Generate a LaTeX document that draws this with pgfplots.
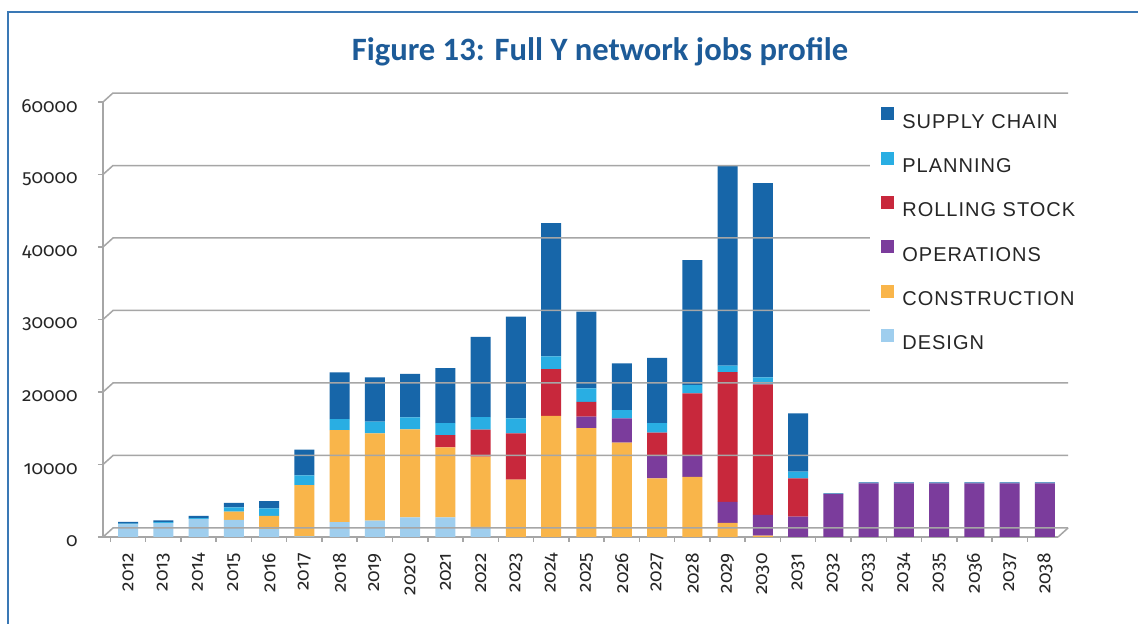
\documentclass[border=0pt]{standalone}
\usepackage{pgfplots}
\usepackage{pgfplotstable}
\pgfplotsset{compat=1.18}
\usepackage{fontspec}
\setmainfont{Carlito}
\newfontfamily\tickfont{Fira Sans}[Numbers=OldStyle]
\newfontfamily\titlefont{Carlito}
\newfontfamily\legfont{Liberation Sans}[LetterSpace=5]
\definecolor{framecol}{HTML}{3A78B5}
\definecolor{titlecol}{HTML}{1D5B98}
\definecolor{gridcol}{HTML}{A6A6A6}
\definecolor{supplycol}{HTML}{1766A9}
\definecolor{planningcol}{HTML}{29AEE3}
\definecolor{rollingcol}{HTML}{C8283C}
\definecolor{opscol}{HTML}{7B3C9C}
\definecolor{constrcol}{HTML}{F9B54A}
\definecolor{designcol}{HTML}{9FCEEE}

\pgfplotstableread{
x year design constr ops rolling planning supply
0 2012 1750 0 0 0 100 250
1 2013 1950 0 0 0 100 250
2 2014 2500 0 0 0 100 300
3 2015 2350 1150 0 0 600 600
4 2016 1100 1800 0 0 1050 1000
5 2017 100 7050 0 0 1350 3550
6 2018 2050 12700 0 0 1500 6450
7 2019 2250 12050 0 0 1600 6100
8 2020 2700 12150 0 0 1650 6000
9 2021 2700 9650 0 1700 1650 7600
10 2022 1400 9700 0 3700 1750 11050
11 2023 0 7900 0 6400 2050 14050
12 2024 0 16700 0 6450 1750 18400
13 2025 0 15000 1600 2050 1850 10600
14 2026 0 13000 3350 0 1150 6450
15 2027 0 8100 3200 3100 1300 9000
16 2028 0 8300 3000 8500 1150 17250
17 2029 0 1950 2900 17900 900 27650
18 2030 0 200 2850 18000 950 26800
19 2031 0 0 2800 5300 900 8050
20 2032 0 0 5900 0 0 100
21 2033 0 0 7400 0 0 150
22 2034 0 0 7400 0 0 150
23 2035 0 0 7400 0 0 150
24 2036 0 0 7400 0 0 150
25 2037 0 0 7400 0 0 150
26 2038 0 0 7400 0 0 150
}\jobsdata

\pgfplotsset{
  sq/.style={legend image code/.code={\fill[##1] (0pt,0.35pt) rectangle (6.5pt,6.85pt);}}
}

\begin{document}
\begin{tikzpicture}
\path[use as bounding box] (0,0) rectangle (569pt,312pt);
\fill[white] (0,0) rectangle (569pt,312pt);
\draw[framecol, line width=1pt] (4pt,0) -- (4pt,306pt) -- (569pt,306pt);
\node[anchor=base, inner sep=0pt, font=\titlefont\bfseries\fontsize{16.3pt}{19pt}\selectfont, text=titlecol] at (300pt,281.6pt) {Figure 13: Full Y network jobs profile};
\begin{axis}[
  at={(51.5pt,43.5pt)}, anchor=south west,
  scale only axis, width=477.5pt, height=217.5pt,
  clip=false,
  ybar stacked, bar width=10pt,
  xmin=-0.709, xmax=26.37, ymin=0, ymax=60000,
  axis x line*=bottom, axis y line*=left,
  axis line style={gridcol, line width=0.75pt},
  ytick={0,10000,20000,30000,40000,50000,60000},
  scaled y ticks=false,
  /pgf/number format/assume math mode=true,
  yticklabel style={/pgf/number format/1000 sep={}, font=\tickfont\fontsize{9.5pt}{11pt}\selectfont, text=black!85, inner sep=0pt, anchor=east, xshift=-10pt, yshift=-2.3pt},
  xtick={-0.5,0.5,...,25.5},
  xticklabels={},
  extra x ticks={0,...,26},
  extra x tick labels={2012,2013,2014,2015,2016,2017,2018,2019,2020,2021,2022,2023,2024,2025,2026,2027,2028,2029,2030,2031,2032,2033,2034,2035,2036,2037,2038},
  extra x tick style={major tick length=0pt},
  xticklabel style={yshift=-8pt, rotate=90, anchor=east, font=\tickfont\fontsize{9.5pt}{11pt}\selectfont, text=black!85, inner sep=0pt},
  tick align=outside, major tick length=2.5pt,
  tick style={gridcol, line width=0.75pt},
  reverse legend,
  legend cell align=left,
  legend style={at={(0.8031,0.9954)}, anchor=north west, draw=none, fill=white,
    inner xsep=5.5pt, inner ysep=1.5pt, row sep=11.7pt, column sep=4pt,
    font=\legfont\fontsize{10pt}{12pt}\selectfont, text=black!85,
    nodes={inner sep=0pt, text height=7.2pt, text depth=0pt}},
]
\pgfplotsinvokeforeach{0,10000,20000,30000,40000,50000,60000}{
  \draw[gridcol, line width=0.75pt] (axis cs:-0.709,#1) -- ([shift={(5pt,4.5pt)}]axis cs:-0.709,#1) -- ([shift={(5pt,4.5pt)}]axis cs:26.37,#1);
}
\draw[gridcol, line width=0.75pt] (axis cs:26.37,0) -- ([shift={(5pt,4.5pt)}]axis cs:26.37,0);
\addplot[fill=designcol, draw=none, sq] table[x=x, y=design]{\jobsdata};
\addplot[fill=constrcol, draw=none, sq] table[x=x, y=constr]{\jobsdata};
\addplot[fill=opscol, draw=none, sq] table[x=x, y=ops]{\jobsdata};
\addplot[fill=rollingcol, draw=none, sq] table[x=x, y=rolling]{\jobsdata};
\addplot[fill=planningcol, draw=none, sq] table[x=x, y=planning]{\jobsdata};
\addplot[fill=supplycol, draw=none, sq] table[x=x, y=supply]{\jobsdata};
\legend{DESIGN, CONSTRUCTION, OPERATIONS, ROLLING STOCK, PLANNING, SUPPLY CHAIN}
\end{axis}
\end{tikzpicture}
\end{document}
